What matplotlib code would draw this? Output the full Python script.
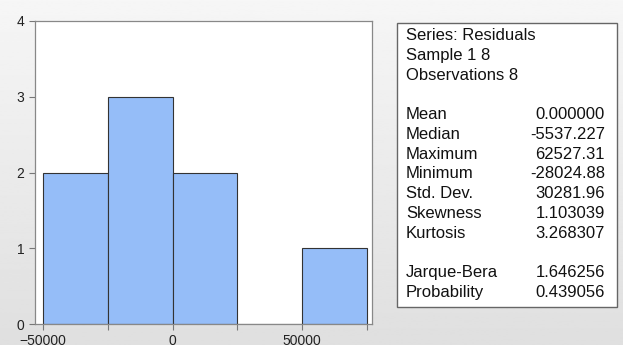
import matplotlib
matplotlib.use("Agg")
from matplotlib import pyplot as plt
from matplotlib.patches import Rectangle
import numpy as np

# histogram of residuals (bin edges and counts)
bin_edges = [-50000, -25000, 0, 25000, 50000, 75000]
counts = [2, 3, 2, 0, 1]

major_ticks = [-50000, 0, 50000]
minor_ticks = [-25000, 25000, 75000]
y_ticks = [0, 1, 2, 3, 4]

# descriptive statistics box
header_lines = ["Series: Residuals", "Sample 1 8", "Observations 8"]
stat_names = ["Mean", "Median", "Maximum", "Minimum", "Std. Dev.", "Skewness", "Kurtosis"]
stat_values = ["0.000000", "-5537.227", "62527.31", "-28024.88", "30281.96", "1.103039", "3.268307"]
test_names = ["Jarque-Bera", "Probability"]
test_values = ["1.646256", "0.439056"]

W, H = 623, 345
plt.rcParams["font.family"] = ["Liberation Sans", "DejaVu Sans"]
fig = plt.figure(figsize=(W / 100, H / 100), dpi=100, facecolor="#eeeeee")

# light gray vertical gradient behind everything
bg = fig.add_axes([0, 0, 1, 1], zorder=-10)
grad = np.linspace(0.965, 0.875, 256).reshape(-1, 1)
bg.imshow(grad, aspect="auto", cmap="gray", vmin=0, vmax=1, extent=[0, 1, 0, 1])
bg.axis("off")

# plot area in pixels: left 35, right 372, top 21, bottom 324
ax = fig.add_axes([35 / W, 1 - 324 / H, (372 - 35) / W, (324 - 21) / H])
ax.set_facecolor("white")

lefts = np.array(bin_edges[:-1])
widths = np.diff(bin_edges)
ax.bar(lefts, counts, width=widths, align="edge", color="#95bdf8",
       edgecolor="#333333", linewidth=0.8)

ax.set_xlim(-53200, 77050)
ax.set_ylim(0, 4)
ax.set_xticks(major_ticks)
ax.set_xticks(minor_ticks, minor=True)
ax.set_yticks(y_ticks)
ax.tick_params(axis="both", which="both", direction="out", length=4,
               width=0.8, color="#777777", labelsize=10, labelcolor="#222222")
for s in ax.spines.values():
    s.set_color("#888888")
    s.set_linewidth(0.9)

# statistics box
box_l, box_r, box_t, box_b = 397, 617, 23, 307
fig.patches.append(Rectangle((box_l / W, 1 - box_b / H), (box_r - box_l) / W,
                             (box_b - box_t) / H, transform=fig.transFigure,
                             facecolor="white", edgecolor="#666666", linewidth=1.0))

row0 = 36
step = 19.7
fs = 12
tx = 406 / W
vx = 605 / W

def row_y(i):
    return 1 - (row0 + i * step) / H

for i, line in enumerate(header_lines):
    fig.text(tx, row_y(i), line, fontsize=fs, va="center", ha="left", color="#111111")
for j, (name, val) in enumerate(zip(stat_names, stat_values)):
    fig.text(tx, row_y(4 + j), name, fontsize=fs, va="center", ha="left", color="#111111")
    fig.text(vx, row_y(4 + j), val, fontsize=fs, va="center", ha="right", color="#111111")
for j, (name, val) in enumerate(zip(test_names, test_values)):
    fig.text(tx, row_y(12 + j), name, fontsize=fs, va="center", ha="left", color="#111111")
    fig.text(vx, row_y(12 + j), val, fontsize=fs, va="center", ha="right", color="#111111")

fig.savefig("out.png", dpi=100, facecolor=fig.get_facecolor())
